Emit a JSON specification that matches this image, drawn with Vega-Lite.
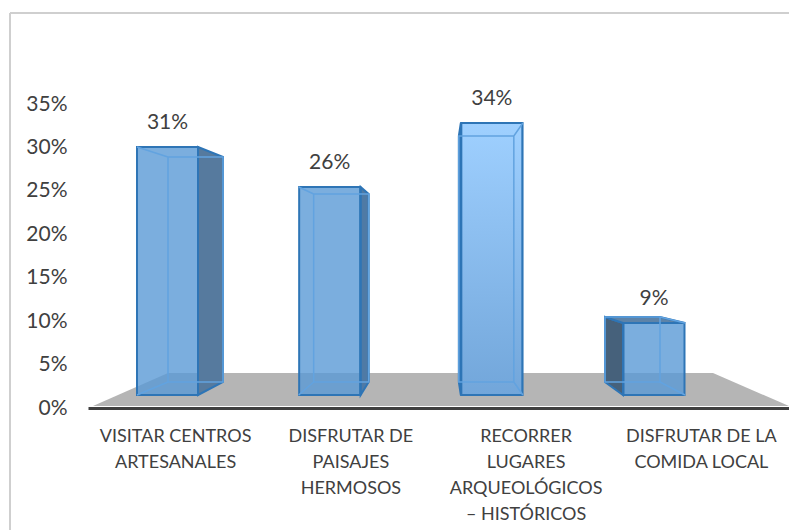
{"$schema":"https://vega.github.io/schema/vega-lite/v6.json","width":779,"height":517,"padding":{"left":10,"top":13,"right":0,"bottom":0},"autosize":{"type":"none"},"background":"white","config":{"view":{"stroke":null},"font":"Lato"},"datasets":{"d":[{"categoria":"VISITAR CENTROS ARTESANALES","valor":0.31},{"categoria":"DISFRUTAR DE PAISAJES HERMOSOS","valor":0.26},{"categoria":"RECORRER LUGARES ARQUEOLÓGICOS – HISTÓRICOS","valor":0.34},{"categoria":"DISFRUTAR DE LA COMIDA LOCAL","valor":0.09}]},"data":{"name":"d"},"resolve":{"scale":{"x":"independent","y":"independent"}},"layer":[{"data":{"values":[{"elemento":"marco"}]},"mark":{"type":"point","x":0,"y":0,"shape":"M0,0L0,517M0,0L779,0","size":4,"filled":false,"stroke":"#cfcfcf","strokeWidth":2,"opacity":1},"encoding":{}},{"data":{"values":[{"elemento":"piso"}]},"mark":{"type":"point","x":0,"y":0,"shape":"M83,393L158,360L703,360L779,393Z","size":4,"filled":true,"fill":"#b5b5b5","strokeWidth":0,"opacity":1},"encoding":{}},{"mark":{"type":"point","opacity":0},"encoding":{"x":{"field":"categoria","type":"nominal","sort":null,"title":null,"scale":{"type":"band","paddingInner":0,"paddingOuter":0,"range":[78,779]},"axis":{"zindex":1,"orient":"bottom","offset":-122,"labelAngle":0,"ticks":false,"domain":true,"domainColor":"#404040","domainWidth":3,"labelColor":"#404040","labelFont":"Lato","labelFontSize":18,"labelLineHeight":26,"labelPadding":19,"labelBaseline":"top","labelOverlap":false,"labelLimit":0,"labelExpr":"{'VISITAR CENTROS ARTESANALES':['VISITAR CENTROS','ARTESANALES'],'DISFRUTAR DE PAISAJES HERMOSOS':['DISFRUTAR DE','PAISAJES','HERMOSOS'],'RECORRER LUGARES ARQUEOLÓGICOS – HISTÓRICOS':['RECORRER','LUGARES','ARQUEOLÓGICOS','– HISTÓRICOS'],'DISFRUTAR DE LA COMIDA LOCAL':['DISFRUTAR DE LA','COMIDA LOCAL']}[datum.label]"}},"y":{"field":"valor","type":"quantitative","title":null,"scale":{"domain":[0,0.35],"range":[395,91]},"axis":{"orient":"left","offset":-60,"values":[0,0.05,0.1,0.15,0.2,0.25,0.3,0.35],"format":".0%","ticks":false,"domain":false,"grid":false,"labelColor":"#404040","labelFont":"Lato","labelFontSize":21,"labelPadding":3}}}},{"encoding":{"x":{"field":"categoria","type":"nominal","sort":null,"scale":{"type":"point","padding":0,"range":[157.5,644]},"axis":null},"y":{"field":"valor","type":"quantitative","scale":{"domain":[0,0.34],"range":[382,110]},"axis":null}},"resolve":{"scale":{"shape":"independent","fill":"independent"}},"layer":[{"mark":{"type":"point","filled":true,"size":4,"opacity":1,"stroke":"#2e75b6","strokeWidth":2},"encoding":{"shape":{"field":"categoria","type":"nominal","legend":null,"scale":{"domain":["VISITAR CENTROS ARTESANALES","DISFRUTAR DE PAISAJES HERMOSOS","RECORRER LUGARES ARQUEOLÓGICOS – HISTÓRICOS","DISFRUTAR DE LA COMIDA LOCAL"],"range":["M30.5,0L55.5,10L55.5,235L30.5,248Z","M31,0L39,7L39,195L31,208Z","M-31,0L-33,13L-33,259L-31,272Z","M-31,0L-49,-6L-49,59L-31,72Z"]}},"fill":{"field":"categoria","type":"nominal","legend":null,"scale":{"domain":["VISITAR CENTROS ARTESANALES","DISFRUTAR DE PAISAJES HERMOSOS","RECORRER LUGARES ARQUEOLÓGICOS – HISTÓRICOS","DISFRUTAR DE LA COMIDA LOCAL"],"range":["#567a9e","#4f7aa5","#2f73b5","#46617b"]}}}},{"transform":[{"filter":"datum.valor < 0.1"}],"mark":{"type":"point","filled":true,"size":4,"opacity":1,"fill":"#5d83a8","stroke":"#2e75b6","strokeWidth":2,"shape":"M-31,0L-49,-6L6,-6L31,0Z"}},{"mark":{"type":"bar","size":61,"fill":"#5a9ad6","fillOpacity":0.8,"stroke":"#2e75b6","strokeWidth":2}},{"transform":[{"filter":"datum.valor > 0.33"}],"mark":{"type":"bar","size":61,"stroke":"#2e75b6","strokeWidth":2,"fill":{"x1":0,"y1":0,"x2":0,"y2":1,"gradient":"linear","stops":[{"offset":0,"color":"#9fd0ff"},{"offset":1,"color":"#72a6da"}]}}},{"mark":{"type":"point","filled":false,"size":4,"opacity":1,"stroke":"#62a3e0","strokeWidth":1.5},"encoding":{"shape":{"field":"categoria","type":"nominal","legend":null,"scale":{"domain":["VISITAR CENTROS ARTESANALES","DISFRUTAR DE PAISAJES HERMOSOS","RECORRER LUGARES ARQUEOLÓGICOS – HISTÓRICOS","DISFRUTAR DE LA COMIDA LOCAL"],"range":["M0.5,10L55.5,10L55.5,235L0.5,235ZM-30.5,0L0.5,10M-30.5,248L0.5,235","M-16,7L39,7L39,195L-16,195ZM-31,0L-16,7M-31,208L-16,195","M-33,13L22,13L22,259L-33,259ZM31,0L22,13M31,272L22,259","M-49,-6L6,-6L6,59L-49,59ZM31,0L6,-6M31,72L6,59"]}}}},{"mark":{"type":"text","dy":-24,"fontSize":21,"font":"Lato","color":"#404040"},"encoding":{"text":{"field":"valor","type":"quantitative","format":".0%"}}}]}]}
